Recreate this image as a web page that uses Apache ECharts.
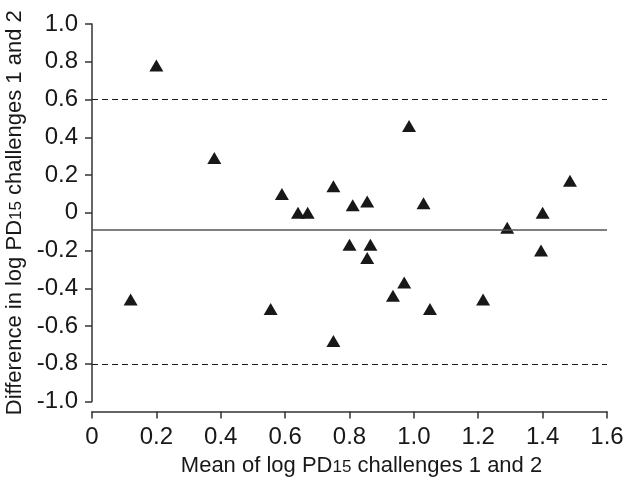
<!DOCTYPE html>
<html>
<head>
<meta charset="UTF-8">
<title>Bland-Altman PD15</title>
<script src="https://cdn.jsdelivr.net/npm/echarts@6/dist/echarts.min.js"></script>
<style>
    body{ margin: 0; }
    #main{ width: 624px; height: 477px; }
</style>
</head>
<body>
    <div id="main"></div>
    <script type="text/javascript">
        // mean of log PD15 (x) and difference (y)
        var meanVals = [0.20, 0.38, 0.12, 0.555, 0.59, 0.64, 0.67, 0.75, 0.75, 0.80, 0.81, 0.855,
                        0.855, 0.865, 0.935, 0.97, 0.985, 1.03, 1.05, 1.215, 1.29, 1.40, 1.395, 1.485];
        var diffVals = [0.78, 0.29, -0.46, -0.51, 0.10, 0, 0, 0.14, -0.68, -0.17, 0.04, 0.06,
                        -0.24, -0.17, -0.44, -0.37, 0.46, 0.05, -0.51, -0.46, -0.08, 0.0, -0.20, 0.17];
        var meanDiff = -0.09;
        var limits = [0.6, -0.8];

        var points = meanVals.map(function(x, i){ return [x, diffVals[i]]; });

        var ink = '#1a1718';
        var fontFam = '"Liberation Sans", Arial, sans-serif';

        function fmt(v){
            return v === 0 ? '0' : v.toFixed(1);
        }

        var rich = {
            a: { fontSize: 22, fontFamily: fontFam, color: ink },
            s: { fontSize: 17, fontFamily: fontFam, color: ink, padding: [4, 0, 0, 0] }
        };

        var myChart = echarts.init(document.getElementById('main'));
        var option = {
            animation: false,
            backgroundColor: '#fff',
            grid: { left: 92, right: 17, top: 24, bottom: 75.5, outerBoundsMode: 'none', containLabel: false },
            xAxis: {
                type: 'value',
                min: 0, max: 1.6, interval: 0.2,
                offset: 10,
                name: '{a|Mean of log PD}{s|15}{a| challenges 1 and 2}',
                nameLocation: 'middle',
                nameGap: 43,
                nameTextStyle: { rich: rich, padding: [0, 0, 0, 24] },
                axisLine: { onZero: false, lineStyle: { color: '#333', width: 1.5 } },
                axisTick: { length: 7, lineStyle: { color: '#333', width: 1.5 } },
                axisLabel: { margin: 14, fontSize: 24, fontFamily: fontFam, color: ink, formatter: fmt },
                splitLine: { show: false }
            },
            yAxis: {
                type: 'value',
                min: -1, max: 1, interval: 0.2,
                name: '{a|Difference in log PD}{s|15}{a| challenges 1 and 2}',
                nameLocation: 'middle',
                nameGap: 62,
                nameTextStyle: { rich: rich },
                axisLine: { show: true, lineStyle: { color: '#333', width: 1.5 } },
                axisTick: { show: true, length: 7, lineStyle: { color: '#333', width: 1.5 } },
                axisLabel: { margin: 14, fontSize: 24, fontFamily: fontFam, color: ink, formatter: fmt },
                splitLine: { show: false }
            },
            series: [
                {
                    type: 'scatter',
                    data: points,
                    symbol: 'triangle',
                    symbolSize: [14, 12],
                    itemStyle: { color: ink, opacity: 1 },
                    markLine: {
                        silent: true,
                        symbol: 'none',
                        label: { show: false },
                        data: [
                            { yAxis: limits[0], lineStyle: { type: [6, 4], color: ink, width: 1.2 } },
                            { yAxis: limits[1], lineStyle: { type: [6, 4], color: ink, width: 1.2 } },
                            { yAxis: meanDiff, lineStyle: { type: 'solid', color: '#555', width: 1.5 } }
                        ]
                    }
                }
            ]
        };
        myChart.setOption(option);
    </script>
</body>
</html>
